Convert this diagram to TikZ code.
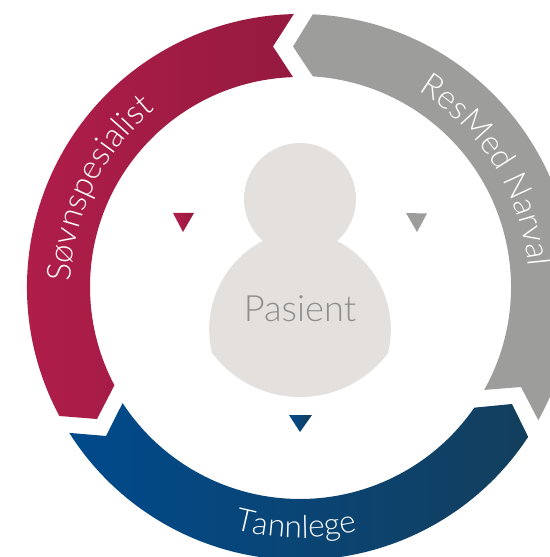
\documentclass[tikz,border=0pt]{standalone}
\usepackage{fontspec}
\usepackage{xcolor}
\usetikzlibrary{decorations.text}
\setmainfont{Lato Light}
\definecolor{redA}{HTML}{B31E4B}
\definecolor{redB}{HTML}{951A3F}
\definecolor{blueA}{HTML}{004A8C}
\definecolor{blueB}{HTML}{133F5D}
\definecolor{greyC}{HTML}{9D9D9C}
\definecolor{person}{HTML}{E3E0DD}
\definecolor{muted}{HTML}{8E8E8E}
\tikzset{
  redseg/.style={left color=redA, right color=redB},
  blueseg/.style={left color=blueA, middle color=blueA!80!blueB, right color=blueB},
  greyseg/.style={fill=greyC},
  ringlab/.style={decorate, decoration={text along path, text color=white, text align=center, text={#1}}},
  labm/.style={text=muted, font=\fontsize{20.6}{24}\selectfont, inner sep=0pt}
}

\begin{document}
\begin{tikzpicture}[x=0.02cm,y=0.02cm]
  \useasboundingbox (-300,-270) rectangle (250,287);
  \clip (-300,-270) rectangle (250,287);
  % ring
  \shade[redseg] (208.2:273) arc[start angle=208.2,end angle=91.3,radius=273]
    -- (-27,240.5) -- (91.9:210) arc[start angle=91.9,end angle=207.9,radius=210]
    -- (-203,-132) -- cycle;
  \fill[greyseg] (87.3:273) arc[start angle=87.3,end angle=-29.2,radius=273]
    -- (221,-100) -- (-29.2:211) arc[start angle=-29.2,end angle=86.5,radius=211]
    -- (-7,240.5) -- cycle;
  \shade[blueseg] (-33.3:273) arc[start angle=-33.3,end angle=-147.7,radius=273]
    -- (-194,-149) -- (-146.8:212) arc[start angle=-146.8,end angle=-34.7,radius=212]
    -- (212,-117) -- cycle;
  % ring labels
  \path[ringlab={|\fontsize{18.8}{22}\selectfont|Søvnspesialist}] (191:229) arc[start angle=191,end angle=117,radius=229];
  \path[ringlab={|\fontsize{18.6}{22}\selectfont|ResMed Narval}] (70:229) arc[start angle=70,end angle=-6,radius=229];
  \path[ringlab={|\fontsize{18}{22}\selectfont|Tannlege}] (-126:251) arc[start angle=-126,end angle=-56,radius=251];
  % person
  \fill[person] (0,88) circle (56);
  \fill[person] (-88,-66) arc[start angle=193.6,end angle=113.7,radius=100]
    -- (31,49) arc[start angle=66.3,end angle=-13.6,radius=100]
    arc[start angle=-36.9,end angle=-143.1,radius=110] -- cycle;
  \node[labm] (pasient) at (0,-22) {Pasient};
  % markers
  \shade[redseg] (-127,74) -- (-106,74) -- (-117,55) -- cycle;
  \fill[greyseg] (106,74) -- (127,73.5) -- (117,55) -- cycle;
  \shade[left color=blueA, right color=blueB] (-11,-128) -- (12,-128) -- (0,-145) -- cycle;
\end{tikzpicture}
\end{document}
